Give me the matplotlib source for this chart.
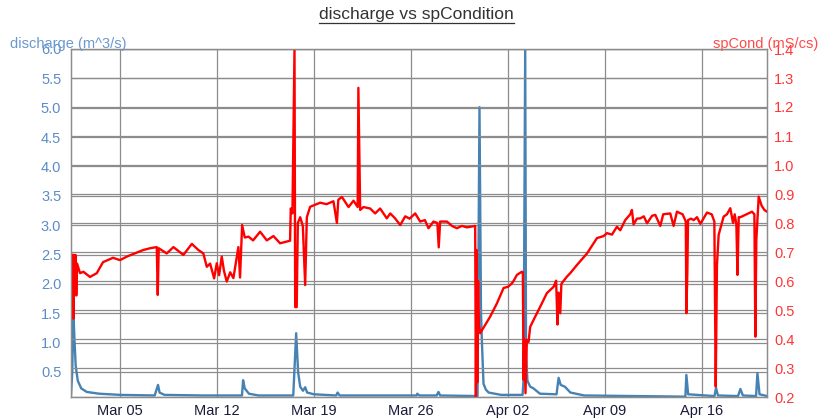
import numpy as np
import matplotlib
matplotlib.use('Agg')
import matplotlib.pyplot as plt
import matplotlib.dates as mdates
from matplotlib.lines import Line2D

plt.rcParams['font.family'] = ['Liberation Sans', 'DejaVu Sans']

start = np.datetime64('2018-03-01T00:00')

# discharge (m^3/s), days since Mar 01
flow_day = [0.46, 0.55, 0.63, 0.7, 0.8, 0.95, 1.2, 1.6, 2.5, 4.0, 6.5, 6.74, 6.85, 7.2,
            10.0, 12.8, 12.88, 13.0, 13.3, 14.0, 16.5, 16.71, 16.85, 17.0, 17.2, 17.36,
            17.5, 18.0, 19.6, 19.7, 19.85, 25.4, 25.45, 25.6, 26.85, 26.98, 27.1, 29.8,
            29.94, 30.05, 30.11, 30.23, 30.4, 30.6, 31.5, 33.05, 33.12, 33.24, 33.3, 33.4,
            33.6, 33.84, 34.3, 35.5, 35.65, 35.8, 36.1, 36.5, 37.5, 44.8, 44.87, 45.0,
            46.9, 47.01, 47.15, 48.6, 48.77, 48.95, 49.9, 50.0, 50.15, 50.69]
flow_val = [0.1, 0.5, 1.55, 1.1, 0.6, 0.35, 0.22, 0.16, 0.13, 0.11, 0.1, 0.28, 0.15, 0.11,
            0.1, 0.1, 0.36, 0.22, 0.13, 0.1, 0.1, 1.16, 0.5, 0.25, 0.18, 0.24,
            0.15, 0.12, 0.1, 0.15, 0.1, 0.1, 0.13, 0.1, 0.1, 0.16, 0.1, 0.09,
            5.01, 1.5, 1.05, 0.3, 0.2, 0.15, 0.11, 0.11, 0.36, 6.0, 0.8, 0.35,
            0.25, 0.22, 0.13, 0.12, 0.4, 0.28, 0.25, 0.15, 0.1, 0.08, 0.45, 0.12,
            0.09, 0.23, 0.1, 0.09, 0.21, 0.1, 0.09, 0.48, 0.12, 0.09]

# specific conductance (mS/cs)
cond_day = [0.51, 0.56, 0.6, 0.63, 0.68, 0.72, 0.78, 0.84, 0.9, 1.11, 1.35, 1.83, 2.32, 2.77,
            3.49, 4.0, 4.48, 5.68, 6.17, 6.65, 6.72, 6.79, 7.37, 7.85, 8.57, 9.18, 9.65,
            10.01, 10.26, 10.5, 10.79, 10.98, 11.15, 11.34, 11.5, 11.7, 11.95, 12.18, 12.35,
            12.54, 12.66, 12.81, 13.0, 13.27, 13.6, 14.11, 14.59, 15.07, 15.55, 16.27, 16.32,
            16.44, 16.59, 16.64, 16.75, 16.83, 17.0, 17.19, 17.36, 17.48, 17.72, 18.44, 18.9,
            19.4, 19.65, 19.75, 20.01, 20.49, 20.85, 21.15, 21.2, 21.33, 21.57, 22.05, 22.41,
            22.77, 23.25, 23.5, 23.85, 24.22, 24.58, 24.9, 25.3, 25.66, 26.0, 26.26, 26.62,
            26.9, 27.0, 27.1, 27.59, 27.95, 28.31, 28.67, 29.03, 29.63, 29.68, 29.73, 29.78,
            29.84, 29.9, 29.99, 30.71, 31.2, 31.68, 32.0, 32.28, 32.4, 32.64, 33.0, 33.07,
            33.12, 33.17, 33.26, 33.36, 33.48, 33.6, 33.96, 34.32, 34.8, 35.29, 35.47, 35.57,
            35.65, 35.77, 35.85, 35.97, 36.25, 36.49, 36.97, 37.7, 38.42, 38.9, 39.14, 39.5,
            39.86, 40.1, 40.46, 40.82, 40.94, 41.06, 41.3, 41.55, 41.8, 42.03, 42.4, 42.63,
            42.99, 43.2, 43.71, 43.95, 44.19, 44.6, 44.83, 44.87, 44.94, 44.99, 45.2, 45.4,
            45.64, 45.88, 46.36, 46.7, 46.89, 46.99, 47.08, 47.2, 47.56, 47.8, 48.04, 48.24,
            48.36, 48.48, 48.56, 48.65, 48.77, 49.25, 49.61, 49.78, 49.85, 49.92, 50.09, 50.3,
            50.5, 50.69]
cond_val = [0.69, 0.55, 0.69, 0.47, 0.69, 0.56, 0.69, 0.55, 0.66, 0.627, 0.632, 0.614, 0.627, 0.665,
            0.68, 0.672, 0.684, 0.707, 0.713, 0.717, 0.552, 0.713, 0.695, 0.717, 0.69, 0.728, 0.707,
            0.695, 0.649, 0.66, 0.609, 0.661, 0.62, 0.684, 0.635, 0.598, 0.63, 0.61, 0.66,
            0.717, 0.612, 0.793, 0.75, 0.753, 0.74, 0.77, 0.74, 0.755, 0.73, 0.739, 0.85,
            0.833, 1.4, 0.51, 0.51, 0.8, 0.82, 0.79, 0.586, 0.82, 0.856, 0.87, 0.865,
            0.875, 0.8, 0.88, 0.89, 0.855, 0.877, 0.855, 1.266, 0.845, 0.855, 0.85, 0.833,
            0.85, 0.816, 0.833, 0.816, 0.793, 0.823, 0.815, 0.833, 0.805, 0.81, 0.782, 0.805,
            0.8, 0.716, 0.805, 0.805, 0.79, 0.782, 0.79, 0.785, 0.79, 0.2, 0.707, 0.25,
            0.6, 0.45, 0.42, 0.477, 0.523, 0.576, 0.58, 0.592, 0.6, 0.621, 0.632, 0.63,
            0.259, 0.4, 0.213, 0.397, 0.39, 0.442, 0.477, 0.511, 0.558, 0.58, 0.601, 0.45,
            0.56, 0.489, 0.59, 0.598, 0.615, 0.627, 0.655, 0.695, 0.748, 0.755, 0.765, 0.76,
            0.787, 0.775, 0.81, 0.83, 0.845, 0.795, 0.815, 0.816, 0.823, 0.799, 0.825, 0.828,
            0.79, 0.83, 0.833, 0.79, 0.839, 0.83, 0.805, 0.489, 0.627, 0.81, 0.815, 0.81,
            0.82, 0.797, 0.836, 0.83, 0.805, 0.236, 0.655, 0.759, 0.822, 0.83, 0.851, 0.8,
            0.83, 0.795, 0.621, 0.82, 0.82, 0.831, 0.839, 0.83, 0.408, 0.741, 0.891, 0.86,
            0.845, 0.839]


def to_dates(days):
    return start + (np.array(days) * 1440).round().astype(int).astype('timedelta64[m]')


grid_col = '#8c8c8c'
blue = '#4682b4'

fig = plt.figure(figsize=(8.33, 4.19), dpi=100)
ax = fig.add_axes([71 / 833, 1 - 397 / 419, (767 - 71) / 833, (397 - 49) / 419])
ax2 = ax.twinx()

ax.plot(to_dates(flow_day), flow_val, color=blue, lw=1.7)
ax2.plot(to_dates(cond_day), cond_val, color='red', lw=1.7)

ax.set_xlim(to_dates([0.46])[0], to_dates([50.69])[0])
ax.set_ylim(0.074, 6.0)
ax2.set_ylim(0.2, 1.4)
ax.set_yticks(np.arange(0.5, 6.01, 0.5))
ax2.set_yticks(np.arange(0.2, 1.41, 0.1))
ax.yaxis.set_major_formatter(plt.FormatStrFormatter('%.1f'))
ax2.yaxis.set_major_formatter(plt.FormatStrFormatter('%.1f'))
ax.xaxis.set_major_locator(mdates.WeekdayLocator(byweekday=mdates.MO))
ax.xaxis.set_major_formatter(mdates.DateFormatter('%b %d'))

ax.grid(True, color=grid_col, lw=0.9)
ax2.grid(True, axis='y', color=grid_col, lw=0.9)
ax.set_axisbelow(True)
for a in (ax, ax2):
    for s in a.spines.values():
        s.set_color(grid_col)
        s.set_linewidth(0.9)

ax.tick_params(axis='y', length=0, pad=7, labelsize=10.5, labelcolor='#5b8cc8')
ax.tick_params(axis='x', length=0, pad=5, labelsize=10.5, labelcolor='#1a1a3a')
ax2.tick_params(axis='y', length=0, pad=5, labelsize=10.5, labelcolor='#ff3535')

fig.text(10 / 833, 1 - 44 / 419, 'discharge (m^3/s)', color='#6a98cf', fontsize=10.5,
         ha='left', va='center')
fig.text(818 / 833, 1 - 44 / 419, 'spCond (mS/cs)', color='#ff4a4a', fontsize=10.5,
         ha='right', va='center')
title = fig.text(0.5, 1 - 14 / 419, 'discharge vs spCondition', color='#333333',
                 fontsize=12.5, ha='center', va='center')

fig.canvas.draw()
bb = title.get_window_extent().transformed(fig.transFigure.inverted())
fig.add_artist(Line2D([bb.x0, bb.x1], [bb.y0 - 0.004, bb.y0 - 0.004],
                      transform=fig.transFigure, color='#333333', lw=0.9))

fig.savefig('out.png', dpi=100)
